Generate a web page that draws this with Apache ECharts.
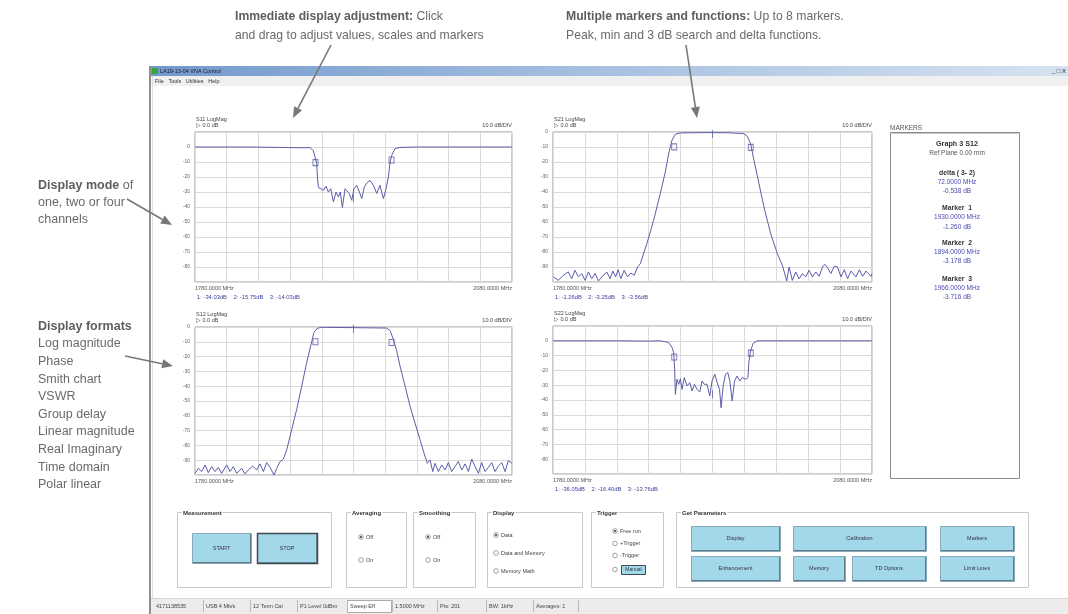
<!DOCTYPE html>
<html><head><meta charset="utf-8">
<script src="https://cdn.jsdelivr.net/npm/echarts@6/dist/echarts.min.js"></script>
<style>html,body{margin:0;padding:0;background:#fff}#c{width:1068px;height:614px}</style>
</head><body><div id="c"></div>
<script>
// ---------------- DATA ----------------
const spanMin = 1780, spanMax = 2080;
const plotTitles = ['S11 LogMag', 'S21 LogMag', 'S12 LogMag', 'S22 LogMag'];
const refLabel = '\u25B7 0.0 dB';
const scaleLabel = '10.0 dB/DIV';
const yRanges = [[-90, 10], [-100, 0], [-100, 0], [-90, 10]];
const markerFreq = [1930, 1894, 1966];
const s11Markers = [-34.03, -15.75, -14.03];
const s21Markers = [-1.26, -3.25, -3.56];
const s12Markers = [-1.260, -3.178, -3.716];
const s22Markers = [-36.05, -16.40, -13.76];
const readouts = ['1: -34.03dB    2: -15.75dB    3: -14.03dB', '1: -1.26dB    2: -3.25dB    3: -3.56dB', '', '1: -36.05dB    2: -16.40dB    3: -13.76dB'];

const s11Trace = [[1780,0],[1830,0],[1860,-0.3],[1880,-0.5],[1888.9,-0.4],[1892,-2.6],[1893.6,-6.7],[1895.2,-11.1],[1895.8,-20],[1896.8,-27.1],[1899,-27.7],[1901.5,-28.9],[1904,-26.2],[1906.2,-30],[1908.4,-27.8],[1911,-36.6],[1913.5,-30],[1915.7,-33.3],[1917.5,-30],[1919.5,-40.4],[1922,-27.8],[1923.6,-26.7],[1926,-31],[1928.3,-35.5],[1930.5,-27.8],[1933,-25.5],[1935.6,-30],[1937.8,-34.4],[1940.3,-26.7],[1942.5,-24],[1945.6,-22.2],[1948.8,-25.5],[1952,-31],[1955,-25.5],[1958.3,-34.4],[1960.8,-27.8],[1962,-26.7],[1963,-20],[1964.6,-10],[1966.2,-5.5],[1969.3,-1.1],[1974,-0.3],[1990,0],[2080,0]];

const s21Trace = [[1780.3,-96.6],[1785,-98.9],[1789.7,-95.5],[1794.4,-93.3],[1797.6,-97.8],[1800.7,-92.2],[1803.9,-96.6],[1807,-94.4],[1810.2,-98.9],[1813.3,-93.3],[1816.4,-97.8],[1819.6,-94.4],[1822.7,-99.3],[1827.5,-95.5],[1830.6,-93.3],[1833.7,-97.8],[1836.3,-92.7],[1838.8,-96.6],[1841.3,-91.8],[1843.8,-97.8],[1846.9,-92.2],[1850.1,-96.6],[1853.2,-94],[1856.4,-95.5],[1859.5,-90],[1862.1,-87.8],[1868.3,-74.4],[1874.6,-58.9],[1880.9,-41.1],[1885.6,-26.6],[1888.8,-14.4],[1891.9,-5.5],[1895.1,-1.5],[1899.8,-0.6],[1925,-0.4],[1943.8,-0.5],[1959.5,-1.1],[1962.7,-2.9],[1965.8,-7.8],[1969,-18.9],[1973.7,-34.4],[1978.4,-50],[1984.7,-67.8],[1991,-81.1],[1995.7,-88.9],[1999.8,-99.3],[2002,-90],[2005.1,-98.9],[2008.3,-93.3],[2011.4,-97.8],[2014.6,-94.4],[2017.7,-96.6],[2020.9,-92.2],[2024,-96.6],[2027.2,-93.3],[2030.3,-96.2],[2033.5,-90],[2035.6,-88.2],[2038.2,-90.4],[2041.3,-94.4],[2044.5,-89.5],[2047.6,-90],[2050.8,-96.6],[2053.9,-91.8],[2057.1,-97.8],[2060.2,-92.7],[2064.9,-96.6],[2068.1,-91.8],[2071.2,-96.2],[2074.3,-92.7],[2079.1,-96.2],[2080,-94.4]];

const s12Trace = [[1780,-98.9],[1783.2,-95.5],[1786.3,-97.7],[1789.5,-93.2],[1792.6,-98.4],[1795.8,-94.3],[1798.9,-97.7],[1802.1,-94.8],[1805.2,-98.9],[1810,-93.2],[1813.1,-97.7],[1816.3,-94.3],[1819.4,-98.9],[1824.2,-95.5],[1827.3,-99.3],[1830.5,-96.6],[1834.6,-93.9],[1838.4,-96.6],[1841.5,-92.5],[1844.7,-97.7],[1847.8,-91.6],[1851,-94.8],[1854.8,-100],[1857.3,-95.5],[1860.5,-90.9],[1863.6,-89.3],[1866.8,-83],[1871.5,-69.4],[1876.2,-55.8],[1881,-39.9],[1885.7,-24],[1889.5,-12.7],[1892.6,-3.6],[1895.8,-0.9],[1899.9,-0.2],[1961.4,-0.7],[1964.6,-2.5],[1967.7,-8.2],[1970.9,-16.1],[1974,-26.3],[1978.8,-39.9],[1983.5,-53.5],[1988.2,-64.9],[1993,-76.2],[1997.7,-87.5],[1999.9,-92.1],[2002.4,-89.8],[2005,-97.7],[2007.2,-92.1],[2010.3,-97.7],[2013.5,-93.2],[2016.6,-96.6],[2019.8,-91.6],[2022.9,-97.7],[2026.1,-94.3],[2029.2,-90.9],[2032.4,-96.6],[2035.6,-92.5],[2038.7,-97.7],[2041.9,-89.3],[2045,-94.3],[2048.2,-98.9],[2051.3,-91.6],[2054.5,-97.7],[2057.6,-94.8],[2060.8,-91.6],[2063.9,-97.7],[2067.1,-93.9],[2070.3,-91.6],[2073.4,-97.7],[2076.6,-90.2],[2079.7,-92.1]];

const s22Trace = [[1780,0],[1840,0],[1870,-0.2],[1880.9,0],[1888.8,-1.1],[1891.9,-4.5],[1893.5,-7.9],[1894.4,-19.2],[1895.1,-36.2],[1896.6,-26],[1898.2,-29.4],[1899.8,-25.6],[1901.3,-32.8],[1903.5,-24.9],[1906.1,-30.5],[1908.6,-28.3],[1910.8,-33.9],[1913,-29.4],[1915.5,-32.8],[1918,-34.6],[1920.2,-27.2],[1922.4,-29.4],[1924.9,-29.4],[1927.4,-37.3],[1929.6,-27.2],[1932.2,-22.6],[1934.4,-28.3],[1936.6,-32.8],[1938.1,-45.3],[1940,-30.5],[1942.2,-22.6],[1944.4,-21.5],[1946.3,-27.2],[1948.5,-40.7],[1950.7,-27.2],[1953.2,-23.8],[1955.8,-27.2],[1958,-24.9],[1961.1,-26],[1963.3,-24.9],[1964.2,-14.7],[1965.8,-6.8],[1968.3,-1.6],[1972.1,0],[2080,0]];

const markerPanelLines = [
  ['Graph 3 S12', 'h'], ['Ref Plane 0.00 mm', 'n'],
  ['delta ( 3- 2)', 'b'], ['72.0000 MHz', 'v'], ['-0.538 dB', 'v'],
  ['Marker  1', 'b'], ['1930.0000 MHz', 'v'], ['-1.260 dB', 'v'],
  ['Marker  2', 'b'], ['1894.0000 MHz', 'v'], ['-3.178 dB', 'v'],
  ['Marker  3', 'b'], ['1966.0000 MHz', 'v'], ['-3.716 dB', 'v']
];
const displayFormats = ['Log magnitude', 'Phase', 'Smith chart', 'VSWR', 'Group delay', 'Linear magnitude', 'Real Imaginary', 'Time domain', 'Polar linear'];
const statusItems = ['4171138535', 'USB 4 Mb/s', '12 Term Cal', 'P1 Level 0dBm', 'Sweep Eff', '1.5000 MHz', 'Pts: 201', 'BW: 1kHz', 'Averages: 1'];
const paramButtons = ['Display', 'Calibration', 'Markers', 'Enhancement', 'Memory', 'TD Options', 'Limit Lines'];

// ---------------- LAYOUT ----------------
const FONT = '"Liberation Sans", Arial, sans-serif';
const TRACE = '#5c5caa';
const grids = [
  {left: 195, top: 132, width: 317, height: 150},
  {left: 553, top: 132, width: 319, height: 150},
  {left: 195, top: 327, width: 317, height: 148},
  {left: 553, top: 326, width: 319, height: 148}
];
const traces = [s11Trace, s21Trace, s12Trace, s22Trace];
const markerVals = [s11Markers, s21Markers, s12Markers, s22Markers];
const markerOffsets = [-8, 10, 10, -8];

const G = [];
function txt(x, y, s, o) {
  o = o || {};
  G.push({type: 'text', x: x, y: y, z: o.z || 20, silent: true,
    style: Object.assign({text: s, fill: o.fill || '#444', fontSize: o.size || 6, fontFamily: FONT,
      fontWeight: o.weight || 'normal', textAlign: o.align || 'left', textVerticalAlign: 'middle'}, o.extra || {})});
}
function rect(x, y, w, h, fill, stroke, lw, z) {
  G.push({type: 'rect', z: z || 5, silent: true, shape: {x: x, y: y, width: w, height: h},
    style: {fill: fill || 'none', stroke: stroke || null, lineWidth: lw || 1}});
}
function seg(x1, y1, x2, y2, stroke, lw, z) {
  G.push({type: 'line', z: z || 6, silent: true, shape: {x1: x1, y1: y1, x2: x2, y2: y2},
    style: {stroke: stroke, lineWidth: lw || 1}});
}
function arrow(x1, y1, x2, y2) {
  const c = '#777';
  const dx = x2 - x1, dy = y2 - y1, L = Math.sqrt(dx * dx + dy * dy);
  const ux = dx / L, uy = dy / L, hl = 11, hw = 4.5;
  const bx = x2 - ux * hl, by = y2 - uy * hl;
  seg(x1, y1, bx, by, c, 1.6, 30);
  G.push({type: 'polygon', z: 30, silent: true, shape: {points: [[x2, y2], [bx - uy * hw, by + ux * hw], [bx + uy * hw, by - ux * hw]]}, style: {fill: c}});
}
function groupBox(x, y, w, h, title) {
  rect(x + 0.5, y + 0.5, w, h, '#fff', '#c9c9c9', 1, 4);
  txt(x + 5, y + 1, title, {weight: 'bold', size: 6, fill: '#333', extra: {backgroundColor: '#fff', padding: [0, 1]}});
}
function button(x, y, w, h, label, dark) {
  rect(x + 0.5, y + 0.5, w, h, '#a3d8ea', dark ? '#3f4a55' : '#88aab8', dark ? 1.5 : 1, 8);
  seg(x + 1, y + h - 0.5, x + w, y + h - 0.5, '#5f7c88', 1, 9);
  seg(x + w - 0.5, y + 1, x + w - 0.5, y + h, '#5f7c88', 1, 9);
  txt(x + w / 2, y + h / 2, label, {align: 'center', size: 5.5, fill: '#334'});
}
function radio(x, y, label, on) {
  G.push({type: 'circle', z: 10, silent: true, shape: {cx: x, cy: y, r: 2.3}, style: {fill: '#fff', stroke: '#888', lineWidth: 0.8}});
  if (on) G.push({type: 'circle', z: 11, silent: true, shape: {cx: x, cy: y, r: 1}, style: {fill: '#333'}});
  txt(x + 5, y, label, {size: 5.5, fill: '#444'});
}

// ---- window chrome ----
G.push({type: 'rect', z: 3, silent: true, shape: {x: 151, y: 66, width: 917, height: 10},
  style: {fill: {type: 'linear', x: 0, y: 0, x2: 1, y2: 0, colorStops: [{offset: 0, color: '#7299cc'}, {offset: 0.5, color: '#a8c1e1'}, {offset: 1, color: '#d6e2f0'}]}}});
rect(152, 68, 6, 6, '#3aa53a', null, 1, 6);
txt(160, 71, 'LA19-13-04 VNA Control', {size: 5.5, fill: '#1a1a2a'});
txt(1066, 71, '_ \u25A1 X', {size: 6, fill: '#222', align: 'right'});
rect(151, 76, 917, 10, '#f0f0f0', null, 1, 3);
txt(155, 81, 'File   Tools   Utilities   Help', {size: 5.5, fill: '#333'});
seg(150, 66, 150, 614, '#8f8f8f', 2, 7);
seg(152.5, 76, 152.5, 598, '#dedede', 1, 7);

// ---- annotations ----
function ann(x, y, richText, size) {
  G.push({type: 'text', x: x, y: y, z: 30, silent: true, style: {text: richText, textVerticalAlign: 'middle', fill: '#6a6a6a', fontSize: size, fontFamily: FONT,
    rich: {b: {fontWeight: 'bold', fill: '#5e5e5e', fontSize: size, fontFamily: FONT}, n: {fill: '#6a6a6a', fontSize: size, fontFamily: FONT}}}});
}
ann(235, 17, '{b|Immediate display adjustment:}{n| Click}', 12.2);
ann(235, 36, '{n|and drag to adjust values, scales and markers}', 12.2);
ann(566, 17, '{b|Multiple markers and functions:}{n| Up to 8 markers.}', 12.2);
ann(566, 36, '{n|Peak, min and 3 dB search and delta functions.}', 12.2);
ann(38, 186, '{b|Display mode}{n| of}', 12.5);
ann(38, 203, '{n|one, two or four}', 12.5);
ann(38, 220, '{n|channels}', 12.5);
ann(38, 327, '{b|Display formats}', 12.5);
displayFormats.forEach(function (s, i) { ann(38, 344 + i * 17.6, '{n|' + s + '}', 12.5); });
arrow(331, 45, 293, 118);
arrow(686, 45, 697, 118);
arrow(127, 199, 172, 225);
arrow(125, 356, 173, 366);

// ---- plot headers and readouts ----
grids.forEach(function (g, i) {
  txt(g.left + 1, g.top - 13, plotTitles[i], {size: 5.5, fill: '#444'});
  txt(g.left + 1, g.top - 6.5, refLabel, {size: 5.5, fill: '#444'});
  txt(g.left + g.width, g.top - 6.5, scaleLabel, {size: 5.5, fill: '#444', align: 'right'});
  if (readouts[i]) txt(g.left + 2, g.top + g.height + 15, readouts[i], {size: 5.8, fill: '#3b3fa0'});
});

// ---- marker panel ----
txt(890, 128, 'MARKERS', {size: 6.5, fill: '#555'});
rect(890.5, 132.5, 129, 346, '#fff', '#8a8a8a', 1, 4);
seg(891.5, 133.5, 1018.5, 133.5, '#c8c8c8', 1, 5);
const mpY = [144, 153, 173, 182, 191, 208, 217.5, 227, 243, 252, 261, 279, 288, 297.5];
markerPanelLines.forEach(function (l, i) {
  const kind = l[1];
  txt(957, mpY[i], l[0], {align: 'center', size: kind === 'h' ? 7.2 : (kind === 'b' ? 6.8 : 6.5),
    weight: (kind === 'h' || kind === 'b') ? 'bold' : 'normal',
    fill: kind === 'v' ? '#4a4ab0' : (kind === 'n' ? '#555' : '#333')});
});

// ---- control groups ----
groupBox(177, 512, 154, 75, 'Measurement');
button(192, 533, 59, 30, 'START', false);
button(257, 533, 60, 30, 'STOP', true);
groupBox(346, 512, 60, 75, 'Averaging');
radio(361, 537, 'Off', true); radio(361, 560, 'On', false);
groupBox(413, 512, 62, 75, 'Smoothing');
radio(428, 537, 'Off', true); radio(428, 560, 'On', false);
groupBox(487, 512, 95, 75, 'Display');
radio(496, 535, 'Data', true); radio(496, 553, 'Data and Memory', false); radio(496, 571, 'Memory Math', false);
groupBox(591, 512, 72, 75, 'Trigger');
radio(615, 531, 'Free run', true); radio(615, 543.5, '+Trigger', false); radio(615, 555.5, '-Trigger', false); radio(615, 569.5, '', false);
rect(621.5, 565.5, 24, 9, '#a3d8ea', '#3f4a55', 1, 8);
txt(633.5, 570, 'Manual', {align: 'center', size: 5, fill: '#334'});
groupBox(676, 512, 352, 75, 'Get Parameters');
const pbPos = [[691, 526, 89], [793, 526, 133], [940, 526, 74], [691, 556, 89], [793, 556, 52], [852, 556, 74], [940, 556, 74]];
paramButtons.forEach(function (b, i) { button(pbPos[i][0], pbPos[i][1], pbPos[i][2], 25, b, false); });

// ---- status bar ----
rect(151, 598, 917, 16, '#ececec', null, 1, 3);
seg(151, 598.5, 1068, 598.5, '#d4d4d4', 1, 4);
const sbX = [153, 203, 250, 297, 347, 392, 437, 486, 533, 578];
rect(347.5, 600.5, 44, 12, '#fff', '#aaa', 1, 5);
for (let i = 1; i < sbX.length; i++) seg(sbX[i] + 0.5, 600, sbX[i] + 0.5, 612, '#b9b9b9', 1, 6);
statusItems.forEach(function (s, i) { txt(sbX[i] + 3, 606.5, s, {size: 5.5, fill: '#444'}); });

// ---------------- CHART ----------------
const xAxes = grids.map(function (g, i) {
  return {type: 'value', gridIndex: i, min: spanMin, max: spanMax, interval: 30,
    axisLine: {show: false}, axisTick: {show: false},
    splitLine: {show: true, lineStyle: {color: '#dadada', width: 1}},
    axisLabel: {show: true, fontSize: 5.5, color: '#555', fontFamily: FONT, margin: 3,
      alignMinLabel: 'left', alignMaxLabel: 'right',
      formatter: function (v) { return (v === spanMin || v === spanMax) ? v.toFixed(4) + ' MHz' : ''; }}};
});
const yAxes = grids.map(function (g, i) {
  const r = yRanges[i];
  return {type: 'value', gridIndex: i, min: r[0], max: r[1], interval: 10,
    axisLine: {show: false}, axisTick: {show: false},
    splitLine: {show: true, lineStyle: {color: '#dadada', width: 1}},
    axisLabel: {show: true, fontSize: 5, color: '#666', fontFamily: FONT, margin: 5,
      formatter: function (v) { return (v <= 0 && v > r[0]) ? String(v) : ''; }}};
});
const series = [];
traces.forEach(function (t, i) {
  series.push({type: 'line', xAxisIndex: i, yAxisIndex: i, data: t, showSymbol: false, smooth: false,
    lineStyle: {color: TRACE, width: 1}, silent: true});
  series.push({type: 'scatter', xAxisIndex: i, yAxisIndex: i, silent: true,
    data: markerFreq.map(function (f, k) { return {value: [f, markerVals[i][k]],
      symbol: 'rect', symbolSize: k === 0 ? [1, 8] : [5, 6],
      symbolOffset: k === 0 ? [0, 0] : [0, markerOffsets[i]],
      itemStyle: k === 0 ? {color: TRACE} : {color: 'rgba(0,0,0,0)', borderColor: TRACE, borderWidth: 1}}; }),
    z: 3});
});

const chart = echarts.init(document.getElementById('c'), null, {renderer: 'canvas'});
chart.setOption({
  animation: false,
  backgroundColor: '#fff',
  grid: grids.map(function (g) { return Object.assign({show: true, borderColor: '#9a9a9a', borderWidth: 1, backgroundColor: '#fff', containLabel: false}, g); }),
  xAxis: xAxes, yAxis: yAxes, series: series,
  graphic: {elements: G}
});
</script></body></html>
